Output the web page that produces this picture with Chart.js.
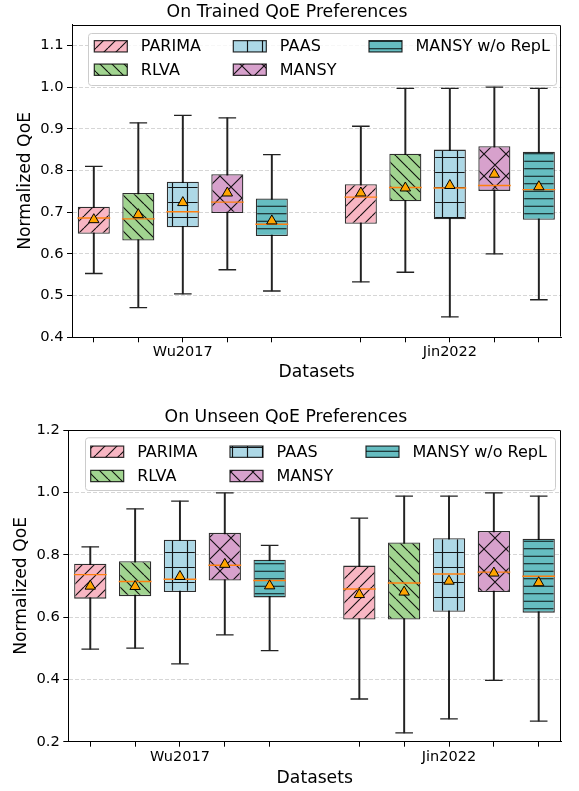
<!DOCTYPE html>
<html><head><meta charset="utf-8">
<script src="https://cdn.jsdelivr.net/npm/chart.js@4.4.0/dist/chart.umd.min.js"></script>
<style>
html,body{margin:0;padding:0;background:#fff;width:579px;height:791px;overflow:hidden}
.wrap{position:absolute;left:0;width:579px}
canvas{display:block}
</style></head><body>
<div class="wrap" style="top:0;height:395px"><canvas id="c1" width="579" height="395"></canvas></div>
<div class="wrap" style="top:395px;height:396px"><canvas id="c2" width="579" height="396"></canvas></div>
<script>
// ---------------- data ----------------
const categories = ['Wu2017', 'Jin2022'];
const methods = ['PARIMA', 'RLVA', 'PAAS', 'MANSY', 'MANSY w/o RepL'];
const methodColors = ['#F8B6C3', '#A1D490', '#ADD8E6', '#D7A1CC', '#66BDC1'];
const methodHatches = ['/', '\\', '+', 'x', '-'];
const boxOffsets = [-2 / 6, -1 / 6, 0, 1 / 6, 2 / 6];

// On Trained QoE Preferences: [method][category]
const trainedLow    = [[0.553, 0.533], [0.471, 0.556], [0.504, 0.449], [0.562, 0.600], [0.511, 0.490]];
const trainedQ1     = [[0.648, 0.672], [0.632, 0.726], [0.664, 0.683], [0.698, 0.751], [0.643, 0.682]];
const trainedMedian = [[0.686, 0.736], [0.684, 0.759], [0.701, 0.758], [0.724, 0.764], [0.671, 0.754]];
const trainedQ3     = [[0.713, 0.767], [0.746, 0.840], [0.773, 0.850], [0.791, 0.858], [0.733, 0.845]];
const trainedHigh   = [[0.810, 0.906], [0.914, 0.997], [0.932, 0.997], [0.926, 1.000], [0.838, 0.997]];
const trainedMean   = [[0.682, 0.746], [0.694, 0.758], [0.723, 0.764], [0.746, 0.791], [0.679, 0.761]];
const trainedYTicks = [0.4, 0.5, 0.6, 0.7, 0.8, 0.9, 1.0, 1.1];

// On Unseen QoE Preferences: [method][category]
const unseenLow    = [[0.497, 0.337], [0.500, 0.228], [0.450, 0.273], [0.543, 0.397], [0.492, 0.266]];
const unseenQ1     = [[0.659, 0.592], [0.667, 0.592], [0.680, 0.617], [0.717, 0.680], [0.663, 0.614]];
const unseenMedian = [[0.736, 0.690], [0.714, 0.709], [0.721, 0.738], [0.766, 0.744], [0.717, 0.731]];
const unseenQ3     = [[0.771, 0.765], [0.779, 0.839], [0.848, 0.853], [0.870, 0.876], [0.784, 0.851]];
const unseenHigh   = [[0.825, 0.917], [0.947, 0.988], [0.972, 0.988], [0.998, 0.998], [0.830, 0.988]];
const unseenMean   = [[0.699, 0.672], [0.698, 0.680], [0.730, 0.715], [0.769, 0.741], [0.700, 0.710]];
const unseenYTicks = [0.2, 0.4, 0.6, 0.8, 1.0, 1.2];

// ---------------- helpers ----------------
const FONT = 'DejaVu Sans';
Chart.defaults.font.family = FONT;
Chart.defaults.color = '#000';

function makePattern(color, hatch) {
  const sizes = {'/': 12, '\\': 12, '+': 15, 'x': 22, '-': 15};
  const s = sizes[hatch];
  const c = document.createElement('canvas');
  c.width = s; c.height = s;
  const g = c.getContext('2d');
  g.fillStyle = color; g.fillRect(0, 0, s, s);
  g.strokeStyle = 'rgba(0,0,0,0.9)'; g.lineWidth = 1.15;
  g.beginPath();
  if (hatch === '/' || hatch === 'x') {
    for (let k = -1; k <= 1; k++) { g.moveTo(k * s, s); g.lineTo(k * s + s, 0); }
  }
  if (hatch === '\\' || hatch === 'x') {
    for (let k = -1; k <= 1; k++) { g.moveTo(k * s, 0); g.lineTo(k * s + s, s); }
  }
  if (hatch === '+') {
    g.moveTo(s / 2, 0); g.lineTo(s / 2, s);
    g.moveTo(0, s / 2); g.lineTo(s, s / 2);
  }
  if (hatch === '-') {
    g.moveTo(0, s / 4); g.lineTo(s, s / 4);
    g.moveTo(0, 3 * s / 4); g.lineTo(s, 3 * s / 4);
  }
  g.stroke();
  return g.createPattern(c, 'repeat');
}

function buildDatasets(st, patterns) {
  const ds = [];
  methods.forEach((m, j) => {
    const pos = categories.map((c, i) => i + boxOffsets[j]);
    ds.push({ type: 'bar', label: m + ' whisker', order: 10, grouped: false,
      data: pos.map((x, i) => ({ x, y: [st.low[j][i], st.high[j][i]] })),
      backgroundColor: '#222', borderWidth: 0, barThickness: 1.3 });
    ds.push({ type: 'bar', label: m, order: 5, grouped: false,
      data: pos.map((x, i) => ({ x, y: [st.q1[j][i], st.q3[j][i]] })),
      backgroundColor: patterns[j], borderColor: 'rgba(0,0,0,0.82)', borderWidth: 1.3,
      borderSkipped: false, barPercentage: 0.72, categoryPercentage: 1 });
    const caps = [];
    pos.forEach((x, i) => { caps.push({ x, y: st.low[j][i] }); caps.push({ x, y: st.high[j][i] }); });
    ds.push({ type: 'scatter', label: m + ' caps', order: 4, data: caps,
      pointStyle: 'line', pointRadius: 8.8, pointBorderColor: '#222', pointBorderWidth: 1.3 });
    ds.push({ type: 'scatter', label: m + ' median', order: 3,
      data: pos.map((x, i) => ({ x, y: st.median[j][i] })),
      pointStyle: 'line', pointRadius: 16.4, pointBorderColor: '#FF7F0E', pointBorderWidth: 1.4 });
    ds.push({ type: 'scatter', label: m + ' mean', order: 1,
      data: pos.map((x, i) => ({ x, y: st.mean[j][i] })),
      pointStyle: 'triangle', pointRadius: 6, pointBackgroundColor: '#FFA500',
      pointBorderColor: '#000', pointBorderWidth: 1 });
  });
  return ds;
}

const framePlugin = {
  id: 'frame',
  afterDatasetsDraw(chart) {
    const { ctx, chartArea: a } = chart;
    ctx.save();
    ctx.strokeStyle = '#000'; ctx.lineWidth = 1;
    ctx.beginPath();
    const l = Math.round(a.left) + 0.5, r = Math.round(a.right) - 0.5;
    const t = Math.round(a.top) + 0.5, b = Math.round(a.bottom) - 0.5;
    ctx.moveTo(l, t); ctx.lineTo(r, t); ctx.lineTo(r, b);
    ctx.stroke();
    ctx.restore();
  }
};

const legendPlugin = {
  id: 'mplLegend',
  afterDraw(chart, args, o) {
    const { ctx, chartArea: a } = chart;
    const fx = a.left + o.dx, fy = a.top + o.dy, fw = o.w, fh = o.h;
    ctx.save();
    ctx.beginPath();
    ctx.roundRect(fx + 0.5, fy + 0.5, fw, fh, 3);
    ctx.fillStyle = 'rgba(255,255,255,0.8)'; ctx.fill();
    ctx.strokeStyle = '#cccccc'; ctx.lineWidth = 1; ctx.stroke();
    const colX = [o.c1, o.c2, o.c3];
    const rowY = [o.r1, o.r2];
    ctx.font = '16px "' + FONT + '"';
    ctx.textBaseline = 'middle';
    methods.forEach((m, j) => {
      const col = Math.floor(j / 2), row = j % 2;
      const sx = fx + colX[col], cy = fy + rowY[row];
      const sw = 33, sh = 11.3;
      ctx.fillStyle = o.patterns[j];
      ctx.fillRect(sx, cy - sh / 2, sw, sh);
      ctx.strokeStyle = 'rgba(0,0,0,0.82)'; ctx.lineWidth = 1.2;
      ctx.strokeRect(sx, cy - sh / 2, sw, sh);
      ctx.fillStyle = '#000';
      ctx.fillText(m, sx + 46.5, cy + 1);
    });
    ctx.restore();
  }
};

function makeChart(id, cfg) {
  const ctx = document.getElementById(id).getContext('2d');
  const patterns = methodColors.map((c, j) => makePattern(c, methodHatches[j]));
  const tickPos = [];
  const tickLab = [];
  categories.forEach((c, i) => boxOffsets.forEach((off, j) => { tickPos.push(i + off); tickLab.push(j === 2 ? c : ''); }));
  return new Chart(ctx, {
    type: 'bar',
    data: { datasets: buildDatasets(cfg.stats, patterns) },
    plugins: [framePlugin, legendPlugin],
    options: {
      responsive: false, animation: false, events: [], devicePixelRatio: 1,
      layout: { padding: { left: 0, right: cfg.padRight, top: 0, bottom: 0 } },
      plugins: {
        legend: { display: false }, tooltip: { enabled: false },
        title: { display: true, text: cfg.title, color: '#000',
          font: { family: FONT, size: 17.3, weight: 'normal', lineHeight: 1.2 },
          padding: cfg.titlePad },
        mplLegend: Object.assign({ patterns }, cfg.legend)
      },
      scales: {
        x: {
          type: 'linear', min: -0.415, max: 1.417, offset: false, bounds: 'data',
          afterBuildTicks: s => { s.ticks = tickPos.map(v => ({ value: v })); },
          afterFit: s => { s.height = cfg.xHeight; },
          ticks: { autoSkip: false, maxRotation: 0, padding: 1.5, color: '#000',
            font: { family: FONT, size: 14.5 },
            callback: (v, idx) => tickLab[idx] },
          grid: { display: true, drawOnChartArea: false, drawTicks: true, tickLength: 5,
            tickColor: '#000', tickWidth: 1, offset: false },
          border: { display: true, color: '#000', width: 1 },
          title: { display: true, text: 'Datasets', color: '#000',
            font: { family: FONT, size: 17.2, lineHeight: 1.2 },
            padding: { top: 0, bottom: cfg.xTitleBottom } }
        },
        y: {
          type: 'linear', min: cfg.yMin, max: cfg.yMax, bounds: 'data',
          afterBuildTicks: s => { s.ticks = cfg.yTicks.map(v => ({ value: v })); },
          afterFit: s => { s.width = cfg.yWidth; },
          ticks: { padding: 3.5, color: '#000', font: { family: FONT, size: 14.7 },
            callback: v => Number(v).toFixed(1) },
          grid: { drawOnChartArea: true, color: 'rgba(0,0,0,0.16)', lineWidth: 1,
            drawTicks: true, tickLength: 5, tickColor: '#000', tickWidth: 1 },
          border: { display: true, color: '#000', width: 1, dash: [4, 2] },
          title: { display: true, text: 'Normalized QoE', color: '#000',
            font: { family: FONT, size: 17.2, lineHeight: 1.2 },
            padding: { top: cfg.yTitleTop, bottom: 0 } }
        }
      }
    }
  });
}

makeChart('c1', {
  title: 'On Trained QoE Preferences',
  stats: { low: trainedLow, q1: trainedQ1, median: trainedMedian, q3: trainedQ3, high: trainedHigh, mean: trainedMean },
  yMin: 0.4, yMax: 1.15, yTicks: trainedYTicks,
  padRight: 5, titlePad: { top: 2.3, bottom: 1.44 },
  xHeight: 57.7, xTitleBottom: 11.7, yWidth: 72, yTitleTop: 15.0,
  legend: { dx: 16, dy: 8.5, w: 468, h: 52, c1: 6.3, c2: 145.3, c3: 281, r1: 13.3, r2: 36.7 }
});
makeChart('c2', {
  title: 'On Unseen QoE Preferences',
  stats: { low: unseenLow, q1: unseenQ1, median: unseenMedian, q3: unseenQ3, high: unseenHigh, mean: unseenMean },
  yMin: 0.2, yMax: 1.2, yTicks: unseenYTicks,
  padRight: 7.3, titlePad: { top: 12.3, bottom: 1.94 },
  xHeight: 49.3, xTitleBottom: 2.4, yWidth: 68.3, yTitleTop: 11.7,
  legend: { dx: 16.7, dy: 7.3, w: 470, h: 52.7, c1: 5.7, c2: 145, c3: 281, r1: 14.4, r2: 38.7 }
});
</script></body></html>
